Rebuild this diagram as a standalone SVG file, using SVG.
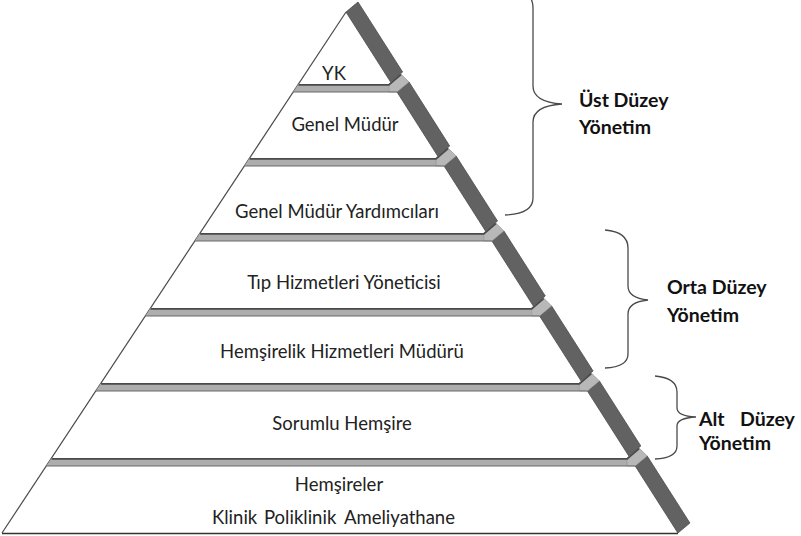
<svg xmlns="http://www.w3.org/2000/svg" width="801" height="536" viewBox="0 0 801 536">
<style>
.bg{fill:#ffffff}
.edge{fill:none;stroke:#4a4a4a;stroke-width:1.2}
.base{fill:none;stroke:#333333;stroke-width:1.6}
.band{fill:#adadad}
.bline{fill:none;stroke:#4a4a4a;stroke-width:1.8}
.bline2{fill:none;stroke:#6a6a6a;stroke-width:1.2}
.slab{fill:#626262;stroke:#4a4a4a;stroke-width:0.8}
.bevel{fill:#b8b8b8;stroke:#8a8a8a;stroke-width:0.6}
.t{font-family:Lato,"Liberation Sans",sans-serif;font-size:18.5px;fill:#222222;text-anchor:middle}
.lbl{font-family:Lato,"Liberation Sans",sans-serif;font-size:19.5px;font-weight:bold;fill:#111111}
.brace{fill:none;stroke:#4a4a4a;stroke-width:1.3}
</style>
<rect class="bg" x="0" y="0" width="801" height="536"/>
<g id="pyramid-frame">
  <line class="edge" x1="346" y1="12" x2="2" y2="533"/>
  <line class="base" x1="2" y1="533.5" x2="678" y2="533.5"/>
</g>
<g id="slabs">
  <polygon class="slab" points="346,12 358,2 402.6,72 390.6,82"/>
  <polygon class="slab" points="397,92 409,82 449.7,146 437.7,156"/>
  <polygon class="slab" points="444.1,166 456.1,156 497.5,221 485.5,231"/>
  <polygon class="slab" points="491.9,241 503.9,231 545.3,296 533.3,306"/>
  <polygon class="slab" points="539.6,316 551.6,306 593.1,371 581.1,381"/>
  <polygon class="slab" points="587.4,391 599.4,381 640.8,446 628.8,456"/>
  <polygon class="slab" points="635.2,466 647.2,456 689.9,523 677.9,533"/>
</g>
<g id="bands">
  <polygon class="band" points="298.5,84 388.9,84 388.9,92 293.2,92"/>
  <polygon class="bevel" points="388.9,84 400.9,74 409,82 397,92 388.9,92"/>
  <polyline class="bline" points="298.5,84.9 388.9,84.9 400.9,74.5"/>
  <line class="bline2" x1="293.2" y1="92" x2="397" y2="92"/>

  <polygon class="band" points="249.6,158 436,158 436,166 244.3,166"/>
  <polygon class="bevel" points="436,158 448,148 456.1,156 444.1,166 436,166"/>
  <polyline class="bline" points="249.6,158.9 436,158.9 448,148.5"/>
  <line class="bline2" x1="244.3" y1="166" x2="444.1" y2="166"/>

  <polygon class="band" points="200.1,233 483.8,233 483.8,241 194.8,241"/>
  <polygon class="bevel" points="483.8,233 495.8,223 503.9,231 491.9,241 483.8,241"/>
  <polyline class="bline" points="200.1,233.9 483.8,233.9 495.8,223.5"/>
  <line class="bline2" x1="194.8" y1="241" x2="491.9" y2="241"/>

  <polygon class="band" points="150.6,308 531.6,308 531.6,316 145.3,316"/>
  <polygon class="bevel" points="531.6,308 543.6,298 551.6,306 539.6,316 531.6,316"/>
  <polyline class="bline" points="150.6,308.9 531.6,308.9 543.6,298.5"/>
  <line class="bline2" x1="145.3" y1="316" x2="539.6" y2="316"/>

  <polygon class="band" points="101.1,383 579.3,383 579.3,391 95.8,391"/>
  <polygon class="bevel" points="579.3,383 591.3,373 599.4,381 587.4,391 579.3,391"/>
  <polyline class="bline" points="101.1,383.9 579.3,383.9 591.3,373.5"/>
  <line class="bline2" x1="95.8" y1="391" x2="587.4" y2="391"/>

  <polygon class="band" points="51.6,458 627.1,458 627.1,466 46.3,466"/>
  <polygon class="bevel" points="627.1,458 639.1,448 647.2,456 635.2,466 627.1,466"/>
  <polyline class="bline" points="51.6,458.9 627.1,458.9 639.1,448.5"/>
  <line class="bline2" x1="46.3" y1="466" x2="635.2" y2="466"/>
</g>
<g id="tier-yk"><text class="t" x="334" y="80">YK</text></g>
<g id="tier-genel-mudur"><text class="t" x="345" y="131">Genel Müdür</text></g>
<g id="tier-gmy"><text class="t" x="337" y="218">Genel Müdür Yardımcıları</text></g>
<g id="tier-tip"><text class="t" x="344" y="289">Tıp Hizmetleri Yöneticisi</text></g>
<g id="tier-hemsirelik"><text class="t" x="342" y="358">Hemşirelik Hizmetleri Müdürü</text></g>
<g id="tier-sorumlu"><text class="t" x="342" y="430">Sorumlu Hemşire</text></g>
<g id="tier-hemsireler">
  <text class="t" x="339" y="491">Hemşireler</text>
  <text class="t" style="text-anchor:start" y="524"><tspan x="212">Klinik</tspan><tspan x="264">Poliklinik</tspan><tspan x="344">Ameliyathane</tspan></text>
</g>
<g id="braces">
  <path class="brace" d="M510,-14 Q533,-10 533,8 L533,86 Q533,102 562,104 Q533,106 533,122 L533,198 Q533,214 505,215"/>
  <path class="brace" d="M605,230 Q628,232 628,248 L628,286 Q628,298 648,300 Q628,302 628,314 L628,354 Q628,367 605,368"/>
  <path class="brace" d="M655,376 Q677,378 677,392 L677,408 Q677,416 696,417 Q677,418 677,426 L677,446 Q677,458 655,459"/>
</g>
<g id="level-ust">
  <text class="lbl" x="579" y="107">Üst Düzey</text>
  <text class="lbl" x="579" y="134">Yönetim</text>
</g>
<g id="level-orta">
  <text class="lbl" x="667" y="294">Orta Düzey</text>
  <text class="lbl" x="667" y="322">Yönetim</text>
</g>
<g id="level-alt">
  <text class="lbl" y="426"><tspan x="699">Alt</tspan><tspan x="740">Düzey</tspan></text>
  <text class="lbl" x="699" y="450">Yönetim</text>
</g>
</svg>
